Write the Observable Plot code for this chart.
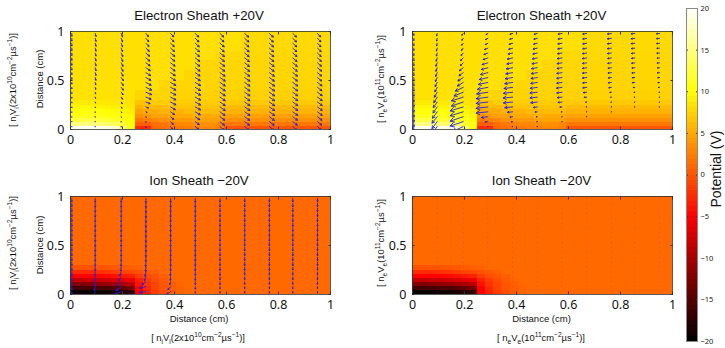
<!DOCTYPE html>
<html><head><meta charset="utf-8">
<script src="https://cdn.jsdelivr.net/npm/d3@7"></script>
<script src="https://cdn.jsdelivr.net/npm/@observablehq/plot@0.6"></script>
<style>
html,body{margin:0;padding:0;background:#fff}
#c{position:relative;width:725px;height:348px;overflow:hidden;font-family:"Liberation Sans",Arial,sans-serif;color:#111}
.t{position:absolute;white-space:nowrap;line-height:1}
.t sub,.t sup{font-size:70%;line-height:0}
.r{transform:translate(-50%,-50%) rotate(-90deg)}
.h{transform:translate(-50%,-50%)}
</style></head><body><div id="c"></div>
<script>
// ---------- categories / ticks
const xTicks=[0,0.2,0.4,0.6,0.8,1];
const yTicks=[0,0.5,1];
const barTicks=[-20,-15,-10,-5,0,5,10,15,20];
const barLevels=d3.range(-20,20,0.625);
// ---------- potential grid (V)
const colEdges=d3.range(33).map(i=>i/32);
const rowEdgesElectron=[0,.03,.07,.11,.15,.2,.25,.3,.4,.5,.6,.7,.8,1];
const potentialElectron=[
[19.5,19.5,19.5,19,19,18,14,11,-2.5,-2.5,1,1.5,2,2,2.5,2.5,3,3,2.5,0,0,0,0,0,0,0,0,0,0,0,0,0],
[15,15,15,14.5,14,13.5,12,10.5,.5,.5,1.5,2,2.5,3,3,3.5,3.5,3.5,3,2,2,2,2,2,2,2,2,2,2,2,2,2],
[12.5,12.5,12.5,12,12,11.5,11,10,2,2.5,3,3.5,4,4,4,4.5,4.5,4.5,4.5,3.5,3.5,3.5,3.5,3.5,3.5,3.5,3.5,3.5,3.5,3.5,3.5,3.5],
[11,11,11,11,10.5,10.5,10,9.5,3.5,4,4.5,4.5,5,5,5,5.5,5,5,5,4.5,4.5,4.5,4.5,4.5,4.5,4.5,4.5,4.5,4.5,4.5,4.5,4.5],
[10.2,10.2,10.2,10.2,10,9.8,9.5,9,4.5,5,5,5.5,5.5,5.5,6,6,6,6,6,5.5,5.5,5.5,5.5,5.5,5.5,5.5,5.5,5.5,5.5,5.5,5.5,5.5],
[9.6,9.6,9.6,9.4,9.3,9,9,8.5,5.5,6,6,6,6.5,6.5,6.5,6.5,6.5,6.5,6.5,6,6,6,6,6,6,6,6,6,6,6,6,6],
[8.8,8.8,8.8,8.7,8.7,8.6,8.5,8.3,6.5,6.5,7,7,7,7,7,7,7,7,7,6.8,6.8,6.8,6.8,6.8,6.8,6.8,6.8,6.8,6.8,6.8,6.8,6.8],
[8.3,8.3,8.3,8.3,8.3,8.3,8.3,8.3,7.6,7.6,7.5,7.5,7.5,7.4,7.4,7.4,7.4,7.3,7.3,7.3,7.3,7.3,7.3,7.3,7.3,7.3,7.3,7.3,7.3,7.3,7.3,7.3],
[8.3,8.3,8.3,8.3,8.3,8.3,8.3,8.3,8.3,8.3,8.3,7.6,7.6,7.6,7.6,7.6,7.6,7.5,7.5,7.5,7.5,7.5,7.5,7.5,7.5,7.5,7.5,7.5,7.5,7.5,7.5,7.5],
[8.2,8.2,8.2,8.2,8.2,8.2,8.2,8.2,8.2,8.2,8.2,8.2,8.2,8.2,7.6,7.6,7.6,7.6,7.6,7.6,7.6,7.6,7.6,7.6,7.6,7.6,7.6,7.6,7.6,7.6,7.6,7.6],
[8.2,8.2,8.2,8.2,8.2,8.2,8.2,8.2,8.2,8.2,8.2,8.2,8.2,8.2,8.2,8.2,7.6,7.6,7.6,7.6,7.6,7.6,7.6,7.6,7.6,7.6,7.6,7.6,7.6,7.6,7.6,7.6],
[8.2,8.2,8.2,8.2,8.2,8.2,8.2,8.2,8.2,8.2,8.2,8.2,8.2,8.2,8.2,8.2,8.2,8.2,7.7,7.7,7.7,7.7,7.7,7.7,7.7,7.7,7.7,7.7,7.7,7.7,7.7,7.7],
[8.2,8.2,8.2,8.2,8.2,8.2,8.2,8.2,8.2,8.2,8.2,8.2,8.2,8.2,8.2,8.2,8.2,8.2,8.2,8.2,8.2,7.8,7.8,7.8,7.8,7.8,7.8,7.8,7.8,7.8,7.8,7.8]
];
const rowEdgesIon=[0,.04,.08,.12,.16,.2,.25,.3,1];
const potentialIon=[
[-19.5,-19.5,-19.5,-19,-19,-18.5,-18,-17,-5,-3,-1.5,-.5,.3,.8,1.2,1.2,1.2,1.2,1.2,1.2,1.2,1.2,1.2,1.2,1.2,1.2,1.2,1.2,1.2,1.2,1.2,1.2],
[-16,-16,-16,-15.5,-15.5,-15,-14,-13,-5,-2.5,-1,0,.5,.8,1.2,1.2,1.2,1.2,1.2,1.2,1.2,1.2,1.2,1.2,1.2,1.2,1.2,1.2,1.2,1.2,1.2,1.2],
[-12.5,-12.5,-12,-11.5,-11,-10.5,-10,-9,-4,-2,-1,0,.5,1,1.2,1.2,1.2,1.2,1.2,1.2,1.2,1.2,1.2,1.2,1.2,1.2,1.2,1.2,1.2,1.2,1.2,1.2],
[-8.5,-8.5,-8,-8,-7.5,-7,-6.5,-6,-3,-1.5,-.5,.3,.8,1.2,1.2,1.2,1.2,1.2,1.2,1.2,1.2,1.2,1.2,1.2,1.2,1.2,1.2,1.2,1.2,1.2,1.2,1.2],
[-5,-5,-5,-4.8,-4.5,-4,-3.5,-3,-1.5,-.5,0,.5,1.2,1.2,1.2,1.2,1.2,1.2,1.2,1.2,1.2,1.2,1.2,1.2,1.2,1.2,1.2,1.2,1.2,1.2,1.2,1.2],
[-2.5,-2.5,-2.5,-2.2,-2,-1.5,-1,-.8,-.2,.2,.6,1.2,1.2,1.2,1.2,1.2,1.2,1.2,1.2,1.2,1.2,1.2,1.2,1.2,1.2,1.2,1.2,1.2,1.2,1.2,1.2,1.2],
[-.2,-.2,-.1,-.1,0,.2,.4,.6,.8,1.2,1.2,1.2,1.2,1.2,1.2,1.2,1.2,1.2,1.2,1.2,1.2,1.2,1.2,1.2,1.2,1.2,1.2,1.2,1.2,1.2,1.2,1.2],
[1.2,1.2,1.2,1.2,1.2,1.2,1.2,1.2,1.2,1.2,1.2,1.2,1.2,1.2,1.2,1.2,1.2,1.2,1.2,1.2,1.2,1.2,1.2,1.2,1.2,1.2,1.2,1.2,1.2,1.2,1.2,1.2]
];
// ---------- flux vectors: one list per column, bottom row first
const fluxCols=[.005,.095,.195,.29,.385,.48,.575,.67,.765,.855,.95];
const fluxRows=[.03,.08,.13,.18,.23,.28,.33,.38,.43,.48,.53,.58,.63,.68,.73,.78,.83,.88,.93,.98];
const ionUa=[
[0,0,0,0,0,0,0,0,0,0,0,0,0,0,0,0,0,0,0,0],
[0,0,0,0,.05,.1,.1,.15,.2,.2,.25,.3,.3,.3,.3,.3,.3,.3,.3,.3],
[0,0,.1,.2,.3,.4,.5,.7,.8,.8,.8,.7,.7,.7,.6,.6,.5,.5,.5,.5],
[0,0,.1,.4,1,1.6,2,2.2,2.2,2,1.9,1.8,1.7,1.6,1.5,1.4,1.3,1.2,1.1,1],
[.7,1,1.2,1.5,1.8,2,2,2,2,2,1.9,1.8,1.7,1.7,1.6,1.6,1.5,1.4,1.3,1.2],
[1.3,1.5,1.7,1.9,2,2,2,2,2,2,1.9,1.8,1.8,1.7,1.7,1.6,1.6,1.5,1.4,1.3],
[1.5,1.7,1.8,1.9,2,2,2,2,2,2,2,1.9,1.8,1.8,1.7,1.7,1.6,1.6,1.5,1.4],
[1.6,1.8,1.9,2,2,2,2,2,2,2,2,1.9,1.9,1.8,1.8,1.7,1.7,1.6,1.6,1.5],
[1.6,1.8,1.9,2,2,2,2,2,2,2,1.9,1.9,1.8,1.8,1.7,1.7,1.6,1.6,1.5,1.5],
[1.5,1.7,1.8,1.9,1.9,1.9,1.9,1.9,1.9,1.9,1.8,1.8,1.7,1.7,1.6,1.6,1.5,1.5,1.4,1.4],
[1.4,1.6,1.7,1.8,1.8,1.8,1.8,1.8,1.7,1.7,1.6,1.6,1.6,1.5,1.5,1.4,1.4,1.3,1.3,1.2]
];
const ionVa=[
[-.3,-.3,-.4,-.5,-.6,-.8,-1,-1.2,-1.4,-1.6,-1.8,-2,-2.2,-2.4,-2.4,-2.5,-2.5,-2.7,-2.7,-2.7],
[-.3,-.3,-.4,-.5,-.6,-.8,-1.2,-1.6,-2,-2.4,-2.8,-2.8,-3,-3,-3,-3,-3,-3,-3,-3],
[-.4,-.4,-.5,-.8,-1.2,-1.6,-2,-2.4,-2.8,-3,-3,-3.5,-3.5,-3.5,-3.5,-3.5,-3.5,-3.5,-3.5,-3.5],
[-.8,-.6,-.5,-.6,-1.1,-1.6,-2,-2.4,-2.8,-2.8,-2.8,-3,-3,-3,-3.2,-3.2,-3.2,-3.2,-3.2,-3.2],
[-2.8,-2.8,-2.8,-2.8,-2.8,-2.8,-2.8,-2.8,-2.8,-3,-3,-3,-3.3,-3.3,-3.3,-3.4,-3.4,-3.4,-3.4,-3.4],
[-3,-3,-3,-3,-3,-3,-3,-3,-3.2,-3.2,-3.2,-3.4,-3.4,-3.5,-3.5,-3.5,-3.6,-3.6,-3.6,-3.6],
[-3.6,-3.6,-3.6,-3.6,-3.6,-3.6,-3.6,-3.6,-3.6,-3.6,-3.6,-3.6,-3.6,-3.6,-3.6,-3.6,-3.6,-3.6,-3.6,-3.6],
[-3.7,-3.7,-3.7,-3.7,-3.7,-3.7,-3.7,-3.7,-3.7,-3.7,-3.7,-3.7,-3.7,-3.7,-3.7,-3.7,-3.7,-3.7,-3.7,-3.7],
[-3.7,-3.7,-3.7,-3.7,-3.7,-3.7,-3.7,-3.7,-3.7,-3.7,-3.7,-3.7,-3.7,-3.7,-3.7,-3.7,-3.7,-3.7,-3.7,-3.7],
[-3.6,-3.6,-3.6,-3.6,-3.6,-3.6,-3.6,-3.6,-3.6,-3.6,-3.6,-3.6,-3.6,-3.6,-3.6,-3.6,-3.6,-3.6,-3.6,-3.6],
[-3.5,-3.5,-3.5,-3.5,-3.5,-3.5,-3.5,-3.5,-3.5,-3.5,-3.5,-3.5,-3.5,-3.5,-3.5,-3.5,-3.5,-3.5,-3.5,-3.5]
];
const eleUa=[
[0,0,0,0,0,0,0,0,0,0,0,0,0,0,0,0,0,0,0,0],
[-2.2,-2,-2,-1.8,-1.6,-1.5,-1.3,-1.1,-.9,-.8,-.7,-.6,-.5,-.5,-.4,-.3,-.3,-.2,-.2,-.2],
[-4,-5,-5,-5,-5,-4.5,-4.5,-3.5,-3,-2.2,-2,-1.6,-1.4,-1.1,-1,-.8,-.7,-.6,-.5,-.5],
[0,-1,-2.5,-4.5,-4.5,-4.5,-4.5,-4.3,-4,-3.6,-3.3,-2.8,-2.5,-2.2,-1.8,-1.5,-1.3,-1,-.9,-.7],
[-.2,-.5,-1,-2,-3,-3.5,-3.6,-3.5,-3.3,-3,-2.8,-2.6,-2.4,-2.2,-2,-1.7,-1.5,-1.3,-1.1,-1],
[-.1,-.2,-.4,-.8,-1.5,-2.5,-2.8,-2.8,-2.7,-2.5,-2.4,-2.3,-2.2,-2,-1.9,-1.7,-1.6,-1.4,-1.3,-1.2],
[0,-.1,-.1,-.3,-.8,-1.5,-1.8,-2,-2.1,-2,-2,-2,-1.9,-1.9,-1.8,-1.7,-1.6,-1.6,-1.5,-1.5],
[0,0,-.1,-.1,-.2,-.4,-1,-1.3,-1.5,-1.5,-1.6,-1.6,-1.6,-1.6,-1.6,-1.6,-1.5,-1.5,-1.5,-1.5],
[0,0,0,-.1,-.1,-.2,-.3,-.6,-1,-1.2,-1.2,-1.3,-1.3,-1.4,-1.4,-1.5,-1.5,-1.5,-1.5,-1.5],
[0,0,0,0,-.1,-.1,-.2,-.3,-.6,-1,-1,-1.1,-1.1,-1.2,-1.2,-1.3,-1.3,-1.4,-1.4,-1.4],
[0,0,0,0,-.1,-.1,-.1,-.2,-.4,-.6,-.7,-.8,-.8,-.9,-.9,-1,-1,-1.1,-1.1,-1.2]
];
const eleVa=[
[-5,-5,-5,-5,-5,-4.5,-4.5,-4,-3.8,-3.5,-3.5,-3,-3,-2.8,-2.8,-2.5,-2.4,-2.4,-2.2,-2],
[-8,-7,-6.5,-6.5,-6,-5.5,-5.5,-5,-4.5,-4.2,-4,-3.8,-3.6,-3.4,-3.2,-3,-2.8,-2.6,-2.6,-2.4],
[-5,-4.5,-4.5,-4,-4,-4,-3.8,-3.8,-3.8,-3.6,-3.4,-3.2,-3,-2.8,-2.6,-2.4,-2.2,-2,-1.9,-1.8],
[-.2,-.3,-.8,-1.2,-1.4,-1.4,-1.5,-1.7,-2,-2,-2,-1.9,-1.8,-1.7,-1.6,-1.5,-1.4,-1.3,-1.2,-1.2],
[-.1,-.2,-.3,-.5,-.7,-.9,-.9,-1.1,-1.2,-1.2,-1.2,-1.2,-1.1,-1.1,-1.1,-1,-1,-1,-.9,-.8],
[-.1,-.1,-.2,-.2,-.5,-.7,-.8,-.8,-1,-1,-1,-1,-.9,-.9,-.9,-.9,-.9,-.8,-.8,-.8],
[0,-.1,-.1,-.1,-.2,-.4,-.5,-.7,-.8,-.8,-.8,-.8,-.8,-.8,-.7,-.7,-.7,-.7,-.7,-.7],
[0,0,-.1,-.1,-.1,-.2,-.2,-.4,-.5,-.5,-.5,-.5,-.6,-.6,-.6,-.6,-.6,-.6,-.6,-.6],
[0,0,0,-.1,-.1,-.1,-.1,-.2,-.4,-.4,-.4,-.4,-.5,-.5,-.5,-.5,-.5,-.5,-.5,-.5],
[0,0,0,0,-.1,-.1,-.1,-.1,-.2,-.2,-.2,-.3,-.3,-.4,-.4,-.4,-.4,-.4,-.4,-.4],
[0,0,0,0,0,-.1,-.1,-.1,-.1,-.2,-.2,-.2,-.2,-.2,-.2,-.2,-.2,-.3,-.3,-.3]
];
const ionUb=[
[0,0,0,0,0,0,0,0,0,0,0,0,0,0,0,0,0,0,0,0],
[-.4,-.3,-.2,-.1,-.1,0,0,0,0,0,0,0,0,0,0,0,0,0,0,0],
[-2.5,-2,-1.5,-1,-.5,-.2,-.1,0,0,0,0,0,0,0,0,0,0,0,0,0],
[-2.5,-2.5,-1.5,-.6,-.3,-.1,-.1,0,0,0,0,0,0,0,0,0,0,0,0,0],
[-1.5,-1,-.3,-.1,-.1,0,0,0,0,0,0,0,0,0,0,0,0,0,0,0],
[0,0,0,0,0,0,0,0,0,0,0,0,0,0,0,0,0,0,0,0],
[0,0,0,0,0,0,0,0,0,0,0,0,0,0,0,0,0,0,0,0],
[0,0,0,0,0,0,0,0,0,0,0,0,0,0,0,0,0,0,0,0],
[0,0,0,0,0,0,0,0,0,0,0,0,0,0,0,0,0,0,0,0],
[0,0,0,0,0,0,0,0,0,0,0,0,0,0,0,0,0,0,0,0],
[0,0,0,0,0,0,0,0,0,0,0,0,0,0,0,0,0,0,0,0]
];
const ionVb=[
[-3,-3.5,-3.5,-3.5,-3.5,-3.5,-3.5,-3.5,-3.5,-3.5,-3.5,-3.5,-3.5,-3.5,-3.5,-3.5,-3.5,-3.5,-3.5,-3.5],
[-4,-4,-4,-4,-4,-4,-4,-4,-4,-4,-4,-4,-4,-4,-4,-4,-4,-4,-4,-4],
[-3,-4,-4,-4,-4,-4,-4,-4,-4,-4,-4,-4,-4,-4,-4,-4,-4,-4,-4,-4],
[-1,-1.5,-3,-4,-4.5,-4.5,-4.5,-4.5,-4.5,-4.5,-4.5,-4.5,-4.5,-4.5,-4.5,-4.5,-4.5,-4.5,-4.5,-4.5],
[-3,-3,-3,-3.5,-4,-4,-4,-4,-4,-4,-4,-4,-4,-4,-4,-4,-4,-4,-4,-4],
[-1.5,-2.5,-3,-3.5,-3.5,-4,-4,-4,-4,-4,-4,-4,-4,-4,-4,-4,-4,-4,-4,-4],
[-1.5,-2,-3,-3,-3.5,-3.5,-3.5,-3.5,-3.5,-3.5,-3.5,-3.5,-3.5,-3.5,-3.5,-3.5,-3.5,-3.5,-3.5,-3.5],
[-1.5,-2,-2.5,-3,-3,-3.5,-3.5,-3.5,-3.5,-3.5,-3.5,-3.5,-3.5,-3.5,-3.5,-3.5,-3.5,-3.5,-3.5,-3.5],
[-1.5,-2,-2.5,-3,-3,-3.5,-3.5,-3.5,-3.5,-3.5,-3.5,-3.5,-3.5,-3.5,-3.5,-3.5,-3.5,-3.5,-3.5,-3.5],
[-1.5,-2,-2.5,-3,-3,-3,-3.5,-3.5,-3.5,-3.5,-3.5,-3.5,-3.5,-3.5,-3.5,-3.5,-3.5,-3.5,-3.5,-3.5],
[-1.5,-2,-2.5,-3,-3,-3,-3.5,-3.5,-3.5,-3.5,-3.5,-3.5,-3.5,-3.5,-3.5,-3.5,-3.5,-3.5,-3.5,-3.5]
];
// ---------- text
const titleE="Electron Sheath +20V", titleI="Ion Sheath \u221220V", distance="Distance (cm)", barLabel="Potential (V)";
const ionLabel='[ n<sub>i</sub>V<sub>i</sub>(2x10<sup>10</sup>cm<sup>\u22122</sup>\u00b5s<sup>\u22121</sup>)]';
const eleLabel='[ n<sub>e</sub>V<sub>e</sub>(10<sup>11</sup>cm<sup>\u22122</sup>\u00b5s<sup>\u22121</sup>)]';

const colorOpts={type:"linear",domain:[-20,-5,10,20],range:["#000000","#ff0000","#ffff00","#ffffff"],clamp:true};
const root=document.getElementById("c");
function cells(matrix,rowEdges){
  return matrix.flatMap((row,r)=>row.map((v,c)=>({x1:colEdges[c],x2:colEdges[c+1],y1:rowEdges[r],y2:rowEdges[r+1],v})));
}
function arrows(U,V){
  const k=0.01, out=[];
  fluxCols.forEach((x,c)=>fluxRows.forEach((y,r)=>out.push({x,y,x2:x+U[c][r]*k,y2:y+V[c][r]*k})));
  return out;
}
const blank=()=>"";
function panel(left,top,matrix,rowEdges,U,V){
  const marks=[
    Plot.rect(cells(matrix,rowEdges),{x1:"x1",x2:"x2",y1:"y1",y2:"y2",fill:"v",shapeRendering:"crispEdges"})
  ];
  if(U) marks.push(Plot.arrow(arrows(U,V),{x1:"x",y1:"y",x2:"x2",y2:"y2",stroke:"#2020e0",strokeWidth:0.9,headLength:8,insetStart:0,insetEnd:0,clip:true}));
  else marks.push(Plot.dot(fluxCols.flatMap(x=>fluxRows.map(y=>({x,y}))),{x:"x",y:"y",r:0.45,fill:"#5a3a90",fillOpacity:0.55}));
  marks.push(
    Plot.axisX({ticks:xTicks,tickFormat:d3.format("~g"),tickSize:-2.5,tickPadding:8,fontSize:12.5,label:null,stroke:"#333",color:"#111"}),
    Plot.axisX({anchor:"top",ticks:xTicks,tickFormat:blank,tickSize:-2.5,label:null,stroke:"#333"}),
    Plot.axisY({ticks:yTicks,tickFormat:d3.format("~g"),tickSize:-2.5,tickPadding:8.5,fontSize:12.5,label:null,stroke:"#333",color:"#111"}),
    Plot.axisY({anchor:"right",ticks:yTicks,tickFormat:blank,tickSize:-2.5,label:null,stroke:"#333"}),
    Plot.frame({stroke:"#333",strokeWidth:0.8})
  );
  const p=Plot.plot({width:296,height:122,marginLeft:30,marginRight:6,marginTop:3,marginBottom:21,
    x:{domain:[0,1]},y:{domain:[0,1]},color:colorOpts,style:{background:"transparent",overflow:"visible"},marks});
  p.style.position="absolute";p.style.left=left+"px";p.style.top=top+"px";
  root.appendChild(p);
}
panel(39.5,27.5,potentialElectron,rowEdgesElectron,ionUa,ionVa);
panel(381.5,27.5,potentialElectron,rowEdgesElectron,eleUa,eleVa);
panel(39.5,193,potentialIon,rowEdgesIon,ionUb,ionVb);
panel(381.5,193,potentialIon,rowEdgesIon,null,null);

// colorbar
const bar=Plot.plot({width:39,height:337,marginLeft:6,marginRight:22,marginTop:2,marginBottom:2,
  x:{domain:[0,1],axis:null},y:{domain:[-20,20]},color:colorOpts,style:{background:"transparent",overflow:"visible"},
  marks:[
    Plot.rect(barLevels,{x1:0,x2:1,y1:d=>d,y2:d=>d+0.625,fill:d=>d+0.3125,shapeRendering:"crispEdges"}),
    Plot.axisY({anchor:"right",ticks:barTicks,tickFormat:d=>String(d).replace("-","\u2212"),tickSize:-2,tickPadding:5,fontSize:7.5,label:null,stroke:"#333",color:"#222"}),
    Plot.axisY({anchor:"left",ticks:barTicks,tickFormat:blank,tickSize:-2,label:null,stroke:"#333"}),
    Plot.frame({stroke:"#888",strokeWidth:1})
  ]});
bar.style.position="absolute";bar.style.left="680px";bar.style.top="5.5px";
root.appendChild(bar);

function text(html,x,y,size,cls){
  const d=document.createElement("div");d.className="t "+cls;d.innerHTML=html;
  d.style.left=x+"px";d.style.top=y+"px";d.style.fontSize=size+"px";root.appendChild(d);
}
text(titleE,199,15.5,13.3,"h");text(titleE,541.5,15.5,13.3,"h");
text(titleI,199,181,13.3,"h");text(titleI,541.5,181,13.3,"h");
text(distance,40,79,9.5,"r");text(distance,40,245,9.5,"r");
text(distance,199,319,9.5,"h");text(distance,541.5,319,9.5,"h");
text(ionLabel,13,80,9.4,"r");text(eleLabel,381,79,9.4,"r");
text(ionLabel,13,243,9.4,"r");text(eleLabel,381,243,9.4,"r");
text(ionLabel,198,338,9.4,"h");text(eleLabel,541,338,9.4,"h");
text(barLabel,716,169,14,"r");
</script></body></html>
